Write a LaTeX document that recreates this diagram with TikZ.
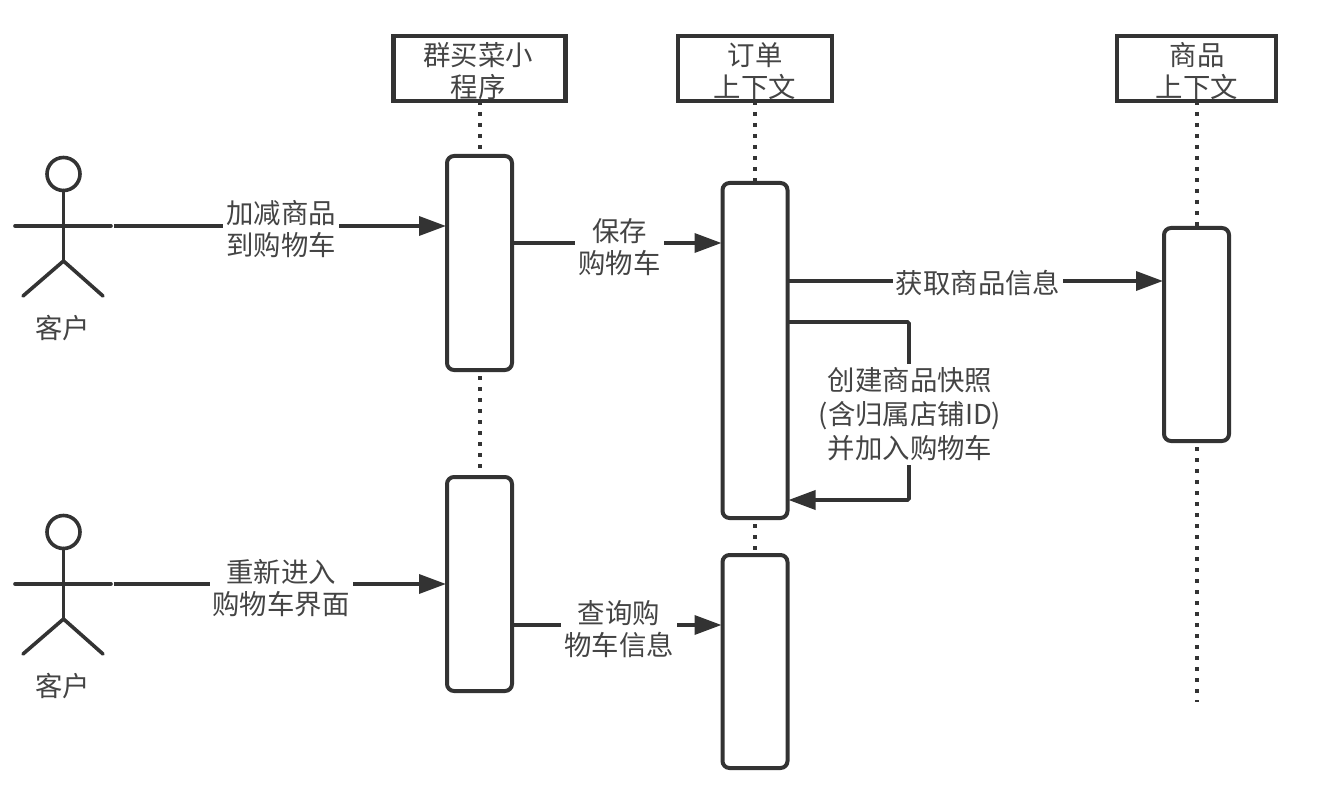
\documentclass[tikz,border=0pt]{standalone}
\usepackage{fontspec}
\setmainfont{Noto Sans CJK SC}
\usetikzlibrary{arrows.meta}
\definecolor{ink}{HTML}{333333}
\definecolor{lettering}{HTML}{444444}
\tikzset{
  every node/.style={text=lettering,font=\fontsize{27.4}{32.5}\selectfont,align=center,outer sep=0pt},
  headbox/.style={draw=ink,line width=4.5pt,fill=white,inner sep=0pt},
  activation/.style={draw=ink,line width=4pt,fill=white,rounded corners=7pt,inner sep=0pt,minimum width=65pt},
  lifeline/.style={draw=ink,line width=4pt,dash pattern=on 4pt off 7pt},
  message/.style={draw=ink,line width=3.6pt,-{Triangle[length=27pt,width=19pt]},shorten >=1pt},
  tag/.style={fill=white,inner xsep=3pt,inner ysep=0pt},
  limb/.style={draw=ink,line width=3.6pt,line cap=round}
}
\begin{document}
\begin{tikzpicture}[x=1pt,y=-1pt]
\useasboundingbox (0,0) rectangle (1336,794);

% participants
\node[headbox,minimum width=172pt,minimum height=65pt] (app) at (479.5,68.5) {};
\node[headbox,minimum width=154pt,minimum height=65pt] (order) at (755,68.5) {};
\node[headbox,minimum width=159pt,minimum height=65pt] (goods) at (1196.5,68.5) {};
\node (apptext) at (478,71) {群买菜小\\程序};
\node (ordertext) at (755,71) {订单\\上下文};
\node (goodstext) at (1197,71) {商品\\上下文};

% activation bars
\node[activation,minimum height=214pt] (appA) at (479.5,263) {};
\node[activation,minimum height=214pt] (appB) at (479.5,584) {};
\node[activation,minimum height=335pt] (orderA) at (755,350.5) {};
\node[activation,minimum height=213pt] (orderB) at (755,661.5) {};
\node[activation,minimum height=213pt] (goodsA) at (1196.5,334.5) {};
\coordinate (goodsEnd) at (1196.5,702);

% lifelines
\draw[lifeline] (app) -- (appA);
\draw[lifeline,shorten <=6pt] (appA) -- (appB);
\draw[lifeline] (order) -- (orderA);
\draw[lifeline,shorten <=6pt] (orderA) -- (orderB);
\draw[lifeline] (goods) -- (goodsA);
\draw[lifeline,shorten <=6pt] (goodsA) -- (goodsEnd);

% customer figures
\node[circle,draw=ink,line width=3.6pt,fill=white,minimum size=33pt,inner sep=0pt] (headA) at (63.5,174) {};
\coordinate (hipA) at (63.5,261);
\coordinate (armLA) at (15,226);
\coordinate (armRA) at (111,226);
\coordinate (legLA) at (23,296);
\coordinate (legRA) at (103,296);
\draw[limb] (headA) -- (hipA);
\draw[limb] (armLA) -- (armRA);
\draw[limb] (legLA) -- (hipA) -- (legRA);
\node (custA) at (63,328) {客户};
\coordinate (startA) at (114,226);

\node[circle,draw=ink,line width=3.6pt,fill=white,minimum size=33pt,inner sep=0pt] (headB) at (63.5,532) {};
\coordinate (hipB) at (63.5,619);
\coordinate (armLB) at (15,584);
\coordinate (armRB) at (111,584);
\coordinate (legLB) at (23,654);
\coordinate (legRB) at (103,654);
\draw[limb] (headB) -- (hipB);
\draw[limb] (armLB) -- (armRB);
\draw[limb] (legLB) -- (hipB) -- (legRB);
\node (custB) at (63,686) {客户};
\coordinate (startB) at (114,584);

% messages
\draw[message] (startA) -- (appA.west |- startA);
\node[tag] (m1) at (281,229) {加减商品\\到购物车};

\draw[message] (appA.east |- 0,243) -- (orderA.west |- 0,243);
\node[tag] (m2) at (619.5,247) {保存\\购物车};

\draw[message] (orderA.east |- 0,281) -- (goodsA.west |- 0,281);
\node[tag] (m3) at (978,283) {获取商品信息};

\draw[message,rounded corners=1.5pt] (orderA.east |- 0,322) -- (909,322) -- (909,500) -- (orderA.east |- 0,500);
\node[tag,inner ysep=4pt,font=\fontsize{27.4}{34}\selectfont] (m4) at (910,414.5) {创建商品快照\\(含归属店铺ID)\\并加入购物车};

\draw[message] (startB) -- (appB.west |- startB);
\node[tag] (m5) at (281,588) {重新进入\\购物车界面};

\draw[message] (appB.east |- 0,625) -- (orderB.west |- 0,625);
\node[tag] (m6) at (619,629) {查询购\\物车信息};
\end{tikzpicture}
\end{document}
